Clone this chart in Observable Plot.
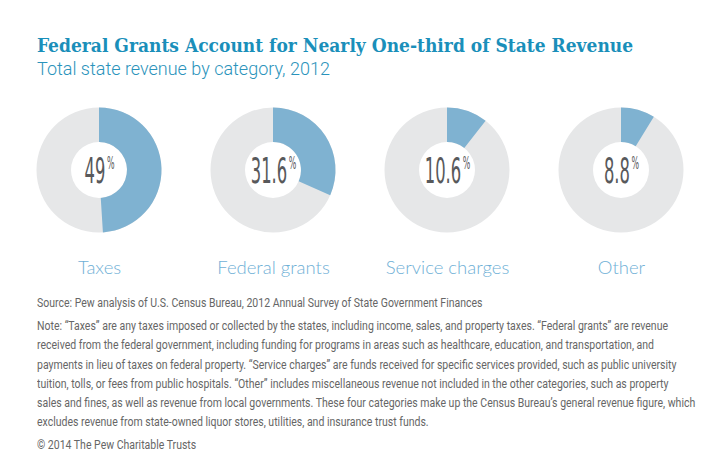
<!DOCTYPE html>
<html><head><meta charset="utf-8">
<script src="https://cdn.jsdelivr.net/npm/d3@7"></script>
<script src="https://cdn.jsdelivr.net/npm/@observablehq/plot@0.6"></script>
<style>
body{margin:0;background:#fff;width:713px;height:465px;position:relative;overflow:hidden;}
#title{position:absolute;left:37px;top:34px;font-weight:bold;font-size:19px;font-family:"DejaVu Serif Condensed","DejaVu Serif",serif;color:#1a8fba;line-height:22px;white-space:nowrap;}
#subtitle{position:absolute;left:37px;top:59px;font-weight:300;font-size:18px;font-family:Roboto,sans-serif;color:#2a93bb;line-height:20px;white-space:nowrap;}
#chart{position:absolute;left:0;top:90px;}
#notes{position:absolute;left:37px;top:294px;font-size:12px;font-family:Roboto,sans-serif;color:#666;line-height:19.2px;white-space:nowrap;transform-origin:0 0;}
#notes .gap{margin-top:4px;}
#notes span{display:inline-block;}
</style>
</head><body>
<div id="title"></div>
<div id="subtitle"></div>
<div id="chart"></div>
<div id="notes"></div>
<script>
const titleText = "Federal Grants Account for Nearly One-third of State Revenue";
const subtitleText = "Total state revenue by category, 2012";
const categories = ["Taxes", "Federal grants", "Service charges", "Other"];
const shares = [49, 31.6, 10.6, 8.8];
const shareLabels = ["49", "31.6", "10.6", "8.8"];
const sourceText = "Source: Pew analysis of U.S. Census Bureau, 2012 Annual Survey of State Government Finances";
const noteLines = [
  "Note: \u201cTaxes\u201d are any taxes imposed or collected by the states, including income, sales, and property taxes. \u201cFederal grants\u201d are revenue",
  "received from the federal government, including funding for programs in areas such as healthcare, education, and transportation, and",
  "payments in lieu of taxes on federal property. \u201cService charges\u201d are funds received for specific services provided, such as public university",
  "tuition, tolls, or fees from public hospitals. \u201cOther\u201d includes miscellaneous revenue not included in the other categories, such as property",
  "sales and fines, as well as revenue from local governments. These four categories make up the Census Bureau\u2019s general revenue figure, which",
  "excludes revenue from state-owned liquor stores, utilities, and insurance trust funds."
];
const creditText = "\u00a9 2014 The Pew Charitable Trusts";

document.getElementById("title").textContent = titleText;
document.getElementById("subtitle").textContent = subtitleText;
const notes = d3.select("#notes");
notes.append("div").append("span").text(sourceText);
let firstSpan = null;
noteLines.forEach((l, i) => {
  const s = notes.append("div").attr("class", i === 0 ? "gap" : null).append("span").text(l);
  if (i === 0) firstSpan = s.node();
});
notes.append("div").attr("class", "gap").append("span").text(creditText);
// condense the note block so that its first line spans the same width as in the reference
const w = firstSpan.getBoundingClientRect().width;
notes.style("transform", `scaleX(${631 / w})`);

const rows = categories.map((c, i) => ({category: c, share: shares[i], label: shareLabels[i]}));

const donut = Plot.dot(rows, {
  x: "category",
  y: () => "donut",
  render: (index, scales, values) => {
    const g = d3.create("svg:g");
    const arc = d3.arc().innerRadius(28).outerRadius(62.5);
    for (const i of index) {
      const gi = g.append("g").attr("transform", `translate(${values.x[i]},${values.y[i]})`);
      gi.append("path").attr("d", arc({startAngle: 0, endAngle: 2 * Math.PI})).attr("fill", "#e6e7e8");
      gi.append("path").attr("d", arc({startAngle: 0, endAngle: rows[i].share / 100 * 2 * Math.PI})).attr("fill", "#7fb2d1");
    }
    return g.node();
  }
});

const centerText = Plot.text(rows, {
  x: "category",
  y: () => "donut",
  text: "label",
  fontSize: 35,
  fill: "#58595b",
  fontFamily: "DejaVu Sans Condensed",
  dy: 1,
  render: (index, scales, values, dimensions, context, next) => {
    const g = next(index, scales, values, dimensions, context);
    d3.select(g).selectAll("text").each(function() {
      const t = d3.select(this);
      t.attr("transform", (t.attr("transform") || "") + " scale(0.52,1)");
      t.append("tspan").attr("font-size", 17).attr("dx", 3).attr("dy", -13.5).text("%");
    });
    return g;
  }
});

const labels = Plot.text(rows, {
  x: "category",
  y: () => "label",
  text: "category",
  fontSize: 18.5,
  fill: "#6fb0d6",
  fontFamily: "Lato",
  fontWeight: 300
});

const chart = Plot.plot({
  width: 713,
  height: 200,
  margin: 0,
  x: {type: "point", domain: categories, range: [98, 621], padding: 0, axis: null},
  y: {type: "point", domain: ["donut", "label"], range: [80, 178], padding: 0, axis: null},
  marks: [donut, centerText, labels]
});
document.getElementById("chart").appendChild(chart);
</script>
</body></html>
